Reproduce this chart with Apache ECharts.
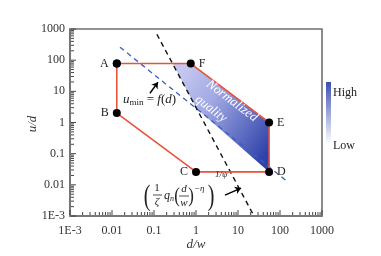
<!DOCTYPE html>
<html>
<head>
<meta charset="utf-8">
<script src="https://cdn.jsdelivr.net/npm/echarts@6/dist/echarts.min.js"></script>
<style>
  html, body { margin: 0; padding: 0; background: #fff; }
  #chart { width: 381px; height: 256px; }
</style>
</head>
<body>
<div id="chart"></div>
<script>
// window vertices, in data units (d/w, u/d)
const pointNames = ["A", "F", "E", "D", "C", "B"];
const pointX = [0.013, 0.75, 55, 55, 1.0, 0.013];
const pointY = [78, 78, 1.0, 0.026, 0.026, 2.0];

// shaded "normalized quality" region
const fillX = [0.277, 0.75, 55, 55, 1.03];
const fillY = [78, 78, 1.0, 0.026, 2.8];

// dashed lines
const blueDashX = [0.0155, 155];
const blueDashY = [260, 0.0123];
const blackDashX = [0.117, 24];
const blackDashY = [680, 0.001];

// arrows [tail, head]
const arrowUmin = [[0.080, 8.7], [0.124, 19.6]];
const arrowFormula = [[4.9, 0.0047], [11.8, 0.0079]];

const tickLabels = ["1E-3", "0.01", "0.1", "1", "10", "100", "1000"];
const decades = [-3, -2, -1, 0, 1, 2];
const minorSteps = [2, 3, 4, 5, 6, 7, 8, 9];

const serif = "Liberation Serif, Times New Roman, serif";
const labelPos = ["left", "right", "right", "right", "left", "left"];

function tickLabel(v) {
  const e = Math.round(Math.log10(v));
  return tickLabels[e + 3] || "";
}

// tick list: [value, length]
const tickList = [];
decades.forEach(e => {
  tickList.push([Math.pow(10, e), 5]);
  minorSteps.forEach(m => tickList.push([m * Math.pow(10, e), 3]));
});
tickList.push([1000, 5]);

function logAxis(margin) {
  return {
    type: "log",
    logBase: 10,
    min: 0.001,
    max: 1000,
    axisLine: { show: true, lineStyle: { color: "#707070", width: 1.6 } },
    axisTick: { show: false },
    minorTick: { show: false },
    splitLine: { show: false },
    axisLabel: { formatter: tickLabel, fontFamily: serif, fontSize: 12, color: "#333", margin: margin }
  };
}

function renderTicks(params, api) {
  const children = [];
  tickList.forEach(t => {
    const px = api.coord([t[0], 0.001]);
    const py = api.coord([0.001, t[0]]);
    children.push({ type: "line", shape: { x1: px[0], y1: px[1] - 1, x2: px[0], y2: px[1] - 1 - t[1] }, style: { stroke: "#444", lineWidth: 1 } });
    children.push({ type: "line", shape: { x1: py[0] + 1, y1: py[1], x2: py[0] + 1 + t[1], y2: py[1] }, style: { stroke: "#444", lineWidth: 1 } });
  });
  return { type: "group", children: children };
}

const chart = echarts.init(document.getElementById("chart"));

const option = {
  animation: false,
  grid: {
    left: 70, right: 59, top: 29, bottom: 40,
    show: true, borderColor: "#707070", borderWidth: 1.6
  },
  xAxis: logAxis(9),
  yAxis: logAxis(5),
  series: [
    {
      type: "custom",
      renderItem: function (params, api) {
        const pts = fillX.map((x, i) => api.coord([x, fillY[i]]));
        return {
          type: "polygon",
          shape: { points: pts },
          style: {
            fill: new echarts.graphic.LinearGradient(0, 0.2, 1, 0.8, [
              { offset: 0, color: "#c4c8f0" },
              { offset: 0.35, color: "#a2a9e3" },
              { offset: 1, color: "#2f42aa" }
            ])
          }
        };
      },
      data: [[1, 1]],
      z: 1
    },
    {
      // inside log ticks on bottom and left axes
      type: "custom",
      renderItem: renderTicks,
      data: [[1, 1]],
      silent: true,
      z: 6
    },
    {
      type: "line",
      data: blueDashX.map((x, i) => [x, blueDashY[i]]),
      symbol: "none",
      lineStyle: { color: "#3a5cc8", width: 1.3, type: [5, 4] },
      z: 2
    },
    {
      type: "line",
      data: blackDashX.map((x, i) => [x, blackDashY[i]]),
      symbol: "none",
      lineStyle: { color: "#111", width: 1.4, type: [5, 4] },
      z: 2
    },
    {
      type: "line",
      data: pointX.concat([pointX[0]]).map((x, i) => ({
        value: [x, pointY.concat([pointY[0]])[i]],
        name: pointNames[i] || "",
        label: {
          show: i < pointNames.length,
          position: labelPos[i] || "left",
          formatter: "{b}"
        }
      })),
      symbol: "circle",
      symbolSize: 8,
      itemStyle: { color: "#000" },
      lineStyle: { color: "#e8533a", width: 1.6 },
      label: { fontFamily: serif, fontSize: 12, color: "#222", distance: 4 },
      z: 3
    },
    {
      type: "lines",
      coordinateSystem: "cartesian2d",
      data: [{ coords: arrowUmin }, { coords: arrowFormula }],
      symbol: ["none", "arrow"],
      symbolSize: 6,
      lineStyle: { color: "#000", width: 1.4, opacity: 1 },
      z: 4
    }
  ],
  graphic: [
    // axis names
    { type: "text", x: 33, y: 124, rotation: Math.PI / 2, style: { text: "u/d", font: "italic 13px " + serif, fill: "#333", align: "center", verticalAlign: "middle" } },
    { type: "text", x: 196, y: 245, style: { text: "d/w", font: "italic 13px " + serif, fill: "#333", align: "center", verticalAlign: "middle" } },
    // region text
    { type: "text", x: 232, y: 101, rotation: -37 * Math.PI / 180, style: { text: "Normalized", font: "italic 13px " + serif, fill: "#fff", align: "center", verticalAlign: "middle" }, z: 10 },
    { type: "text", x: 211, y: 109, rotation: -37 * Math.PI / 180, style: { text: "quality", font: "italic 13px " + serif, fill: "#fff", align: "center", verticalAlign: "middle" }, z: 10 },
    // u_min = f(d)
    {
      type: "text", x: 123, y: 100, z: 10,
      style: {
        text: "{i|u}{s|min}{r| = }{i|f}{r|(}{i|d}{r|)}",
        verticalAlign: "middle",
        rich: {
          i: { font: "italic 13px " + serif, fill: "#222" },
          s: { font: "9px " + serif, fill: "#222", padding: [6, 0, 0, 0] },
          r: { font: "13px " + serif, fill: "#222" }
        }
      }
    },
    // formula (1/zeta q_n (d/w)^-eta)^(1/psi)
    { type: "text", x: 147, y: 197, scaleX: 0.8, scaleY: 1.2, style: { text: "(", font: "25px " + serif, fill: "#222", align: "center", verticalAlign: "middle" }, z: 10 },
    { type: "text", x: 157, y: 188, style: { text: "1", font: "11px " + serif, fill: "#222", align: "center", verticalAlign: "middle" }, z: 10 },
    { type: "line", shape: { x1: 153, y1: 195, x2: 162, y2: 195 }, style: { stroke: "#222", lineWidth: 0.8 }, z: 10 },
    { type: "text", x: 157, y: 202, style: { text: "ζ", font: "italic 11px " + serif, fill: "#222", align: "center", verticalAlign: "middle" }, z: 10 },
    { type: "text", x: 164, y: 196, style: { text: "{q|q}{n|n}", verticalAlign: "middle", rich: { q: { font: "italic 12px " + serif, fill: "#222" }, n: { font: "italic 8px " + serif, fill: "#222", padding: [5, 0, 0, 0] } } }, z: 10 },
    { type: "text", x: 177, y: 196, scaleX: 0.8, style: { text: "(", font: "21px " + serif, fill: "#222", align: "center", verticalAlign: "middle" }, z: 10 },
    { type: "text", x: 184, y: 189, style: { text: "d", font: "italic 11px " + serif, fill: "#222", align: "center", verticalAlign: "middle" }, z: 10 },
    { type: "line", shape: { x1: 179, y1: 196, x2: 189, y2: 196 }, style: { stroke: "#222", lineWidth: 0.8 }, z: 10 },
    { type: "text", x: 184, y: 203, style: { text: "w", font: "italic 11px " + serif, fill: "#222", align: "center", verticalAlign: "middle" }, z: 10 },
    { type: "text", x: 191, y: 196, scaleX: 0.8, style: { text: ")", font: "21px " + serif, fill: "#222", align: "center", verticalAlign: "middle" }, z: 10 },
    { type: "text", x: 194, y: 189, style: { text: "−η", font: "italic 9px " + serif, fill: "#222", verticalAlign: "middle" }, z: 10 },
    { type: "text", x: 211, y: 197, scaleX: 0.8, scaleY: 1.2, style: { text: ")", font: "25px " + serif, fill: "#222", align: "center", verticalAlign: "middle" }, z: 10 },
    { type: "text", x: 215, y: 175, style: { text: "1/ψ", font: "italic 9px " + serif, fill: "#222", verticalAlign: "middle" }, z: 10 },
    // colour bar
    {
      type: "rect", shape: { x: 326, y: 82, width: 5, height: 62 },
      style: {
        fill: new echarts.graphic.LinearGradient(0, 0, 0, 1, [
          { offset: 0, color: "#3b4fb2" },
          { offset: 1, color: "#ffffff" }
        ])
      }
    },
    { type: "text", x: 333, y: 93, style: { text: "High", font: "12px " + serif, fill: "#222", verticalAlign: "middle" } },
    { type: "text", x: 333, y: 146, style: { text: "Low", font: "12px " + serif, fill: "#222", verticalAlign: "middle" } }
  ]
};

chart.setOption(option);
window.addEventListener("resize", () => chart.resize());
</script>
</body>
</html>
